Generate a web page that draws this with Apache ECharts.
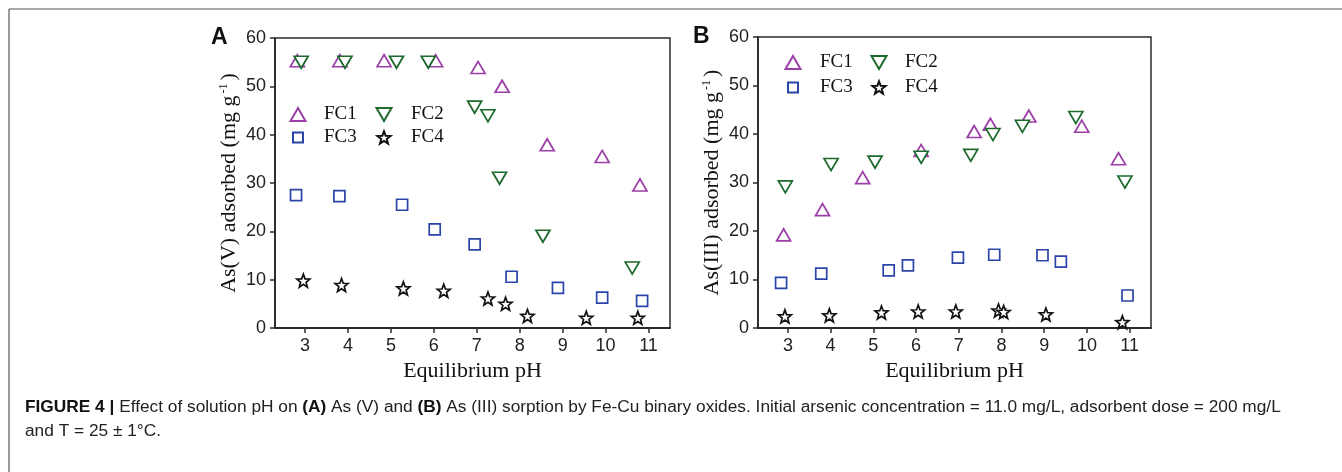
<!DOCTYPE html>
<html>
<head>
<meta charset="utf-8">
<script src="https://cdn.jsdelivr.net/npm/echarts@6/dist/echarts.min.js"></script>
<style>
  html, body { margin: 0; padding: 0; background: #fff; }
  #main { width: 1342px; height: 472px; }
</style>
</head>
<body>
<div id="main"></div>
<script>
// x tick labels (pH) shared by both panels
var xTicks = [3, 4, 5, 6, 7, 8, 9, 10, 11];

// panel A: As(V) adsorbed, [pH, mg/g]
var fc1A = [[2.82, 55.3], [3.81, 55.3], [4.84, 55.3], [6.04, 55.3], [7.03, 53.9], [7.59, 50.0], [8.64, 37.9], [9.92, 35.5], [10.8, 29.6]];
var fc2A = [[2.91, 55.0], [3.93, 55.0], [5.13, 55.0], [5.87, 55.0], [6.95, 45.7], [7.26, 43.9], [7.53, 31.0], [8.54, 19.0], [10.62, 12.4]];
var fc3A = [[2.79, 27.5], [3.80, 27.3], [5.26, 25.5], [6.02, 20.4], [6.95, 17.3], [7.81, 10.6], [8.89, 8.3], [9.92, 6.3], [10.85, 5.6]];
var fc4A = [[2.96, 9.8], [3.85, 8.9], [5.29, 8.2], [6.23, 7.7], [7.26, 6.1], [7.67, 5.0], [8.18, 2.5], [9.55, 2.1], [10.75, 2.1]];

// panel B: As(III) adsorbed
var fc1B = [[2.90, 19.2], [3.81, 24.4], [4.75, 31.0], [6.12, 36.6], [7.36, 40.5], [7.74, 42.0], [8.64, 43.7], [9.88, 41.6], [10.74, 34.9]];
var fc2B = [[2.94, 29.1], [4.01, 33.7], [5.04, 34.2], [6.12, 35.2], [7.28, 35.6], [7.80, 39.9], [8.49, 41.6], [9.74, 43.4], [10.89, 30.1]];
var fc3B = [[2.84, 9.3], [3.78, 11.2], [5.36, 11.9], [5.81, 12.9], [6.98, 14.5], [7.83, 15.1], [8.96, 15.0], [9.39, 13.7], [10.95, 6.7]];
var fc4B = [[2.93, 2.4], [3.97, 2.6], [5.19, 3.2], [6.05, 3.4], [6.93, 3.4], [7.93, 3.6], [8.05, 3.3], [9.04, 2.8], [10.83, 1.2]];

var chart = echarts.init(document.getElementById('main'));

var SANS = 'Liberation Sans, Arial, sans-serif';
var SERIF = 'Liberation Serif, Times New Roman, serif';
var AXIS_COLOR = '#2b2b2b';

var TRI_UP = 'path://M5,0L10,8.66L0,8.66Z';
var TRI_DOWN = 'path://M0,0L10,0L5,8.66Z';
var STAR = 'path://M10,0L12.47,6.6L19.51,6.91L13.99,11.3L15.88,18.09L10,14.2L4.12,18.09L6.01,11.3L0.49,6.91L7.53,6.6Z';

var styles = {
  FC1: { symbol: TRI_UP, size: [14, 12], color: '#9c3ea8' },
  FC2: { symbol: TRI_DOWN, size: [14, 12], color: '#1c6a2c' },
  FC3: { symbol: 'rect', size: [11, 11], color: '#2a44a8' },
  FC4: { symbol: STAR, size: [13, 13], color: '#111111' }
};

function makeSeries(name, data, idx) {
  var s = styles[name];
  return {
    name: name,
    type: 'scatter',
    xAxisIndex: idx,
    yAxisIndex: idx,
    data: data,
    symbol: s.symbol,
    symbolSize: s.size,
    itemStyle: { color: '#fff', borderColor: s.color, borderWidth: 1.7, opacity: 1 },
    emphasis: { disabled: true },
    z: 3
  };
}

function makeXAxis(idx) {
  return {
    gridIndex: idx,
    type: 'value',
    min: 2.3,
    max: 11.5,
    name: 'Equilibrium pH',
    nameLocation: 'middle',
    nameGap: 29,
    nameTextStyle: { fontFamily: SERIF, fontSize: 22, color: '#111' },
    axisLine: { show: true, onZero: false, lineStyle: { color: AXIS_COLOR, width: 1.8 } },
    axisTick: { show: true, length: 5, customValues: xTicks, lineStyle: { color: AXIS_COLOR, width: 1.5 } },
    axisLabel: { customValues: xTicks, margin: 9, fontFamily: SANS, fontSize: 18, color: '#222' },
    splitLine: { show: false }
  };
}

function makeYAxis(idx, species) {
  return {
    gridIndex: idx,
    type: 'value',
    min: 0,
    max: 60,
    interval: 10,
    name: '{n|As(' + species + ') adsorbed (mg g}{sup|-1}{n|)}',
    nameLocation: 'middle',
    nameGap: 35,
    nameTextStyle: {
      rich: {
        n: { fontFamily: SERIF, fontSize: 22, color: '#111' },
        sup: { fontFamily: SERIF, fontSize: 12, color: '#111', verticalAlign: 'top', padding: [0, 3, 0, 2] }
      }
    },
    axisLine: { show: true, onZero: false, lineStyle: { color: AXIS_COLOR, width: 1.8 } },
    axisTick: { show: true, length: 5, lineStyle: { color: AXIS_COLOR, width: 1.5 } },
    axisLabel: { margin: 9, fontFamily: SANS, fontSize: 18, color: '#222' },
    splitLine: { show: false }
  };
}

// one legend per item so the 2x2 layout matches
function makeLegend(name, cx, cy, textX) {
  var w = name === 'FC3' ? 10 : (name === 'FC4' ? 13 : 15);
  var h = name === 'FC3' ? 10 : (name === 'FC4' ? 13 : 13);
  return {
    data: [name],
    left: cx - w / 2,
    top: cy - 11,
    padding: 0,
    itemWidth: w,
    itemHeight: h,
    selectedMode: false,
    textStyle: {
      fontFamily: SERIF, fontSize: 19, color: '#111',
      padding: [0, 0, 0, textX - (cx + w / 2 + 5)]
    }
  };
}

var option = {
  backgroundColor: '#fff',
  animation: false,
  grid: [
    { left: 275, top: 38, width: 395, height: 290, show: true, borderColor: AXIS_COLOR, borderWidth: 1.5, backgroundColor: 'transparent' },
    { left: 758, top: 37, width: 393, height: 291, show: true, borderColor: AXIS_COLOR, borderWidth: 1.5, backgroundColor: 'transparent' }
  ],
  xAxis: [makeXAxis(0), makeXAxis(1)],
  yAxis: [makeYAxis(0, 'V'), makeYAxis(1, 'III')],
  legend: [
    makeLegend('FC1', 297, 116, 323),
    makeLegend('FC2', 383, 116, 410),
    makeLegend('FC3', 297, 139, 323),
    makeLegend('FC4', 383, 139, 410),
    makeLegend('FC1', 792, 64, 819),
    makeLegend('FC2', 878, 64, 904),
    makeLegend('FC3', 792, 89, 819),
    makeLegend('FC4', 878, 89, 904)
  ],
  series: [
    makeSeries('FC1', fc1A, 0),
    makeSeries('FC2', fc2A, 0),
    makeSeries('FC3', fc3A, 0),
    makeSeries('FC4', fc4A, 0),
    makeSeries('FC1', fc1B, 1),
    makeSeries('FC2', fc2B, 1),
    makeSeries('FC3', fc3B, 1),
    makeSeries('FC4', fc4B, 1)
  ],
  graphic: [
    // figure frame (top and left edges only)
    { type: 'line', shape: { x1: 9, y1: 9, x2: 1342, y2: 9 }, style: { stroke: '#555', lineWidth: 1.2 } },
    { type: 'line', shape: { x1: 9, y1: 9, x2: 9, y2: 472 }, style: { stroke: '#555', lineWidth: 1.2 } },
    { type: 'text', left: 211, top: 26, style: { text: 'A', font: 'bold 23px ' + SANS, fill: '#111' } },
    { type: 'text', left: 693, top: 25, style: { text: 'B', font: 'bold 23px ' + SANS, fill: '#111' } },
    {
      type: 'text', left: 25, top: 399,
      style: {
        text: '{b|FIGURE 4 |} Effect of solution pH on {b|(A)} As (V) and {b|(B)} As (III) sorption by Fe-Cu binary oxides. Initial arsenic concentration = 11.0 mg/L, adsorbent dose = 200 mg/L',
        font: '17.3px ' + SANS,
        fill: '#222',
        rich: { b: { fontFamily: SANS, fontSize: 17.3, fontWeight: 'bold', fill: '#111' } }
      }
    },
    {
      type: 'text', left: 25, top: 423,
      style: { text: 'and T = 25 \u00b1 1\u00b0C.', font: '17.3px ' + SANS, fill: '#222' }
    }
  ]
};

chart.setOption(option);
window.addEventListener('resize', function () {
  chart.resize();
});
</script>
</body>
</html>
